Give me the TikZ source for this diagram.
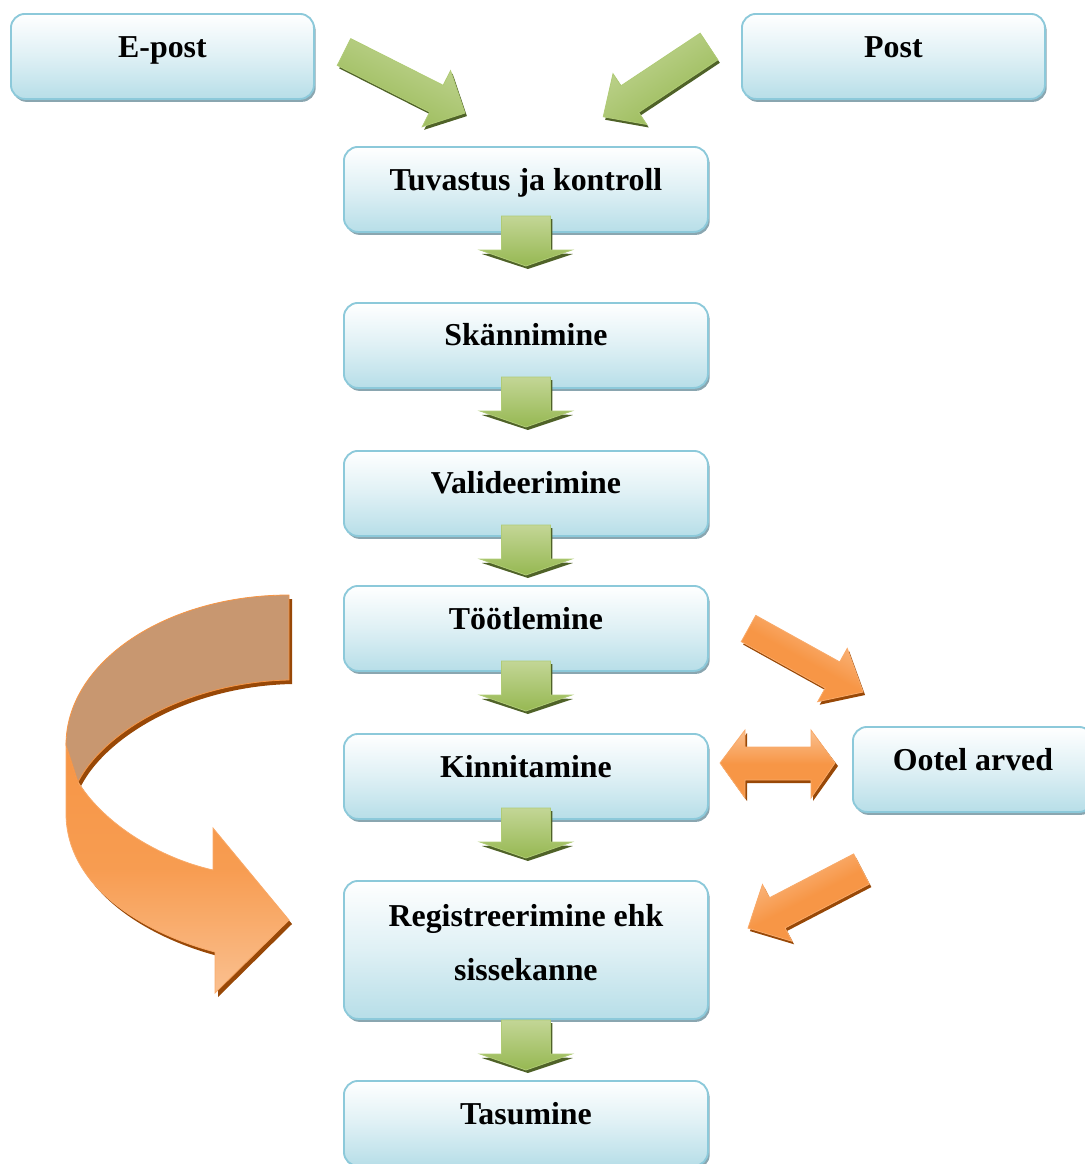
\documentclass[tikz,border=0pt]{standalone}
\usepackage{fontspec}
\setmainfont{Liberation Serif}
\usetikzlibrary{shadows,calc}
\definecolor{boxline}{RGB}{140,201,218}
\definecolor{boxblue}{RGB}{183,222,232}
\definecolor{boxshadow}{RGB}{138,166,176}
\definecolor{greenlight}{RGB}{195,214,150}
\definecolor{greenmid}{RGB}{150,184,82}
\definecolor{greenline}{RGB}{176,203,118}
\definecolor{greenshadow}{RGB}{79,98,40}
\definecolor{orlight}{RGB}{250,192,144}
\definecolor{ormid}{RGB}{247,150,70}
\definecolor{orline}{RGB}{249,170,105}
\definecolor{orshadow}{RGB}{152,72,7}
\definecolor{brownpart}{RGB}{200,151,112}
\tikzset{
  box/.style={draw=boxline, line width=1.4pt, rounded corners=10.5pt,
    top color=white, bottom color=boxblue, middle color=white!55!boxblue,
    minimum width=364*0.75pt, minimum height=85*0.75pt,
    anchor=north west, inner sep=0pt,
    drop shadow={shadow xshift=1.3pt, shadow yshift=-2.2pt, fill=boxshadow, opacity=1}},
  lbl/.style={anchor=base, inner sep=0pt, align=center,
    font=\fontsize{23.9}{40.5}\selectfont\bfseries},
  greenfill/.style={draw=greenline, line width=0.6pt, top color=greenlight, bottom color=greenmid},
  orangefill/.style={draw=orline, line width=0.6pt, top color=orlight, bottom color=ormid, middle color=ormid},
}
% down arrow: #1 = top centre
\newcommand\greendown[1]{%
  \begin{scope}[shift={#1}]
    \fill[greenshadow] (-22.5,3) -- (26.5,3) -- (26.5,37) -- (47,38) -- (2,53) -- (-44,38) -- (-22.5,37) -- cycle;
    \path[greenfill] (-24.5,0) -- (24.5,0) -- (24.5,34) -- (46,34) -- (0,50) -- (-46,34) -- (-24.5,34) -- cycle;
  \end{scope}}
% diagonal block arrow: #1 tail centre, #2 rotation, #3 length, #4 shaft hw, #5 head hw, #6 head length, #7 style, #8 shadow colour, #9 shading angle
\newcommand\blockarr[9]{%
  \begin{scope}[shift={($#1+(2,3)$)}, rotate=#2]
    \fill[#8] (0,-#4) -- ({#3-#6},-#4) -- ({#3-#6},-#5) -- (#3,0) -- ({#3-#6},#5) -- ({#3-#6},#4) -- (0,#4) -- cycle;
  \end{scope}
  \begin{scope}[shift={#1}, rotate=#2]
    \path[#7, shading angle=#9] (0,-#4) -- ({#3-#6},-#4) -- ({#3-#6},-#5) -- (#3,0) -- ({#3-#6},#5) -- ({#3-#6},#4) -- (0,#4) -- cycle;
  \end{scope}}
\begin{document}
\begin{tikzpicture}[x=0.75pt, y=-0.75pt]
\useasboundingbox (0,0) rectangle (1085,1164);
\clip (0,0) rectangle (1085,1164);

% boxes
\node[box, minimum width=303*0.75pt] (E) at (10,13) {};
\node[box, minimum width=303*0.75pt] (P) at (741,13) {};
\node[box] (T) at (343,146) {};
\node[box] (S) at (343,302) {};
\node[box] (V) at (343,450) {};
\node[box] (O) at (343,585) {};
\node[box] (K) at (343,733) {};
\node[box, minimum height=138*0.75pt] (R) at (343,880) {};
\node[box] (M) at (343,1080) {};
\node[box, minimum width=240*0.75pt] (A) at (852,726) {};

% labels
\node[lbl] at ([yshift=-33pt]E.north) {E-post};
\node[lbl] at ([yshift=-33pt]P.north) {Post};
\node[lbl] at ([yshift=-33pt]T.north) {Tuvastus ja kontroll};
\node[lbl] at ([yshift=-32.5pt]S.north) {Skännimine};
\node[lbl] at ([yshift=-32.5pt]V.north) {Valideerimine};
\node[lbl] at ([yshift=-33pt]O.north) {Töötlemine};
\node[lbl] at ([yshift=-33pt]K.north) {Kinnitamine};
\node[lbl] at ([yshift=-75pt]R.north) {Registreerimine ehk\\sissekanne};
\node[lbl] at ([yshift=-33pt]M.north) {Tasumine};
\node[lbl] at ([yshift=-33pt]A.north) {Ootel arved};

% green down arrows
\greendown{(T.south |- 0,216)}
\greendown{(S.south |- 0,377)}
\greendown{(V.south |- 0,525)}
\greendown{(O.south |- 0,661)}
\greendown{(K.south |- 0,808)}
\greendown{(R.south |- 0,1020)}

% green diagonal arrows
\blockarr{(344,52)}{-26.8}{135.5}{15}{31.5}{32}{greenfill}{greenshadow}{-26.8}
\blockarr{(709,46.5)}{-146.4}{127}{16}{30.5}{32}{greenfill}{greenshadow}{33.6}

% orange diagonal arrows
\blockarr{(748.5,628.5)}{-29}{131}{15}{30.5}{35}{orangefill}{orshadow}{-29}
\blockarr{(861.5,869)}{-152.5}{128}{17}{32}{33}{orangefill}{orshadow}{27.5}

% double arrow
\fill[orshadow] (722,766) -- (747,733) -- (747,750) -- (813,750) -- (813,733) -- (838,766) -- (813,801) -- (813,783) -- (747,783) -- (747,801) -- cycle;
\path[orangefill] (720,763) -- (745,730) -- (745,747) -- (811,747) -- (811,730) -- (835,763) -- (811,798) -- (811,780) -- (745,780) -- (745,798) -- cycle;

% curved arrow: shadow
\begin{scope}[shift={(3,4)}]
\fill[orshadow] (289,595) .. controls (166,595) and (66,662) .. (66,745)
  -- (66,813) .. controls (66,890) and (150,935) .. (215,952)
  -- (215,993) -- (289,920) -- (213,828) -- (213,870)
  .. controls (160,858) and (105,825) .. (78,782)
  .. controls (105,730) and (190,682) .. (289,680) -- cycle;
\end{scope}
% lower (orange) part
\path[orangefill, top color=ormid, bottom color=orlight, middle color=ormid!85!orlight]
  (66,745) -- (66,813) .. controls (66,890) and (150,935) .. (215,952)
  -- (215,993) -- (289,920) -- (213,828) -- (213,870)
  .. controls (160,858) and (105,825) .. (78,782) -- cycle;
% upper (brown) part
\path[fill=brownpart, draw=ormid, line width=0.6pt]
  (289,595) .. controls (166,595) and (66,662) .. (66,745)
  -- (78,782) .. controls (105,730) and (190,682) .. (289,680) -- cycle;
\end{tikzpicture}
\end{document}
